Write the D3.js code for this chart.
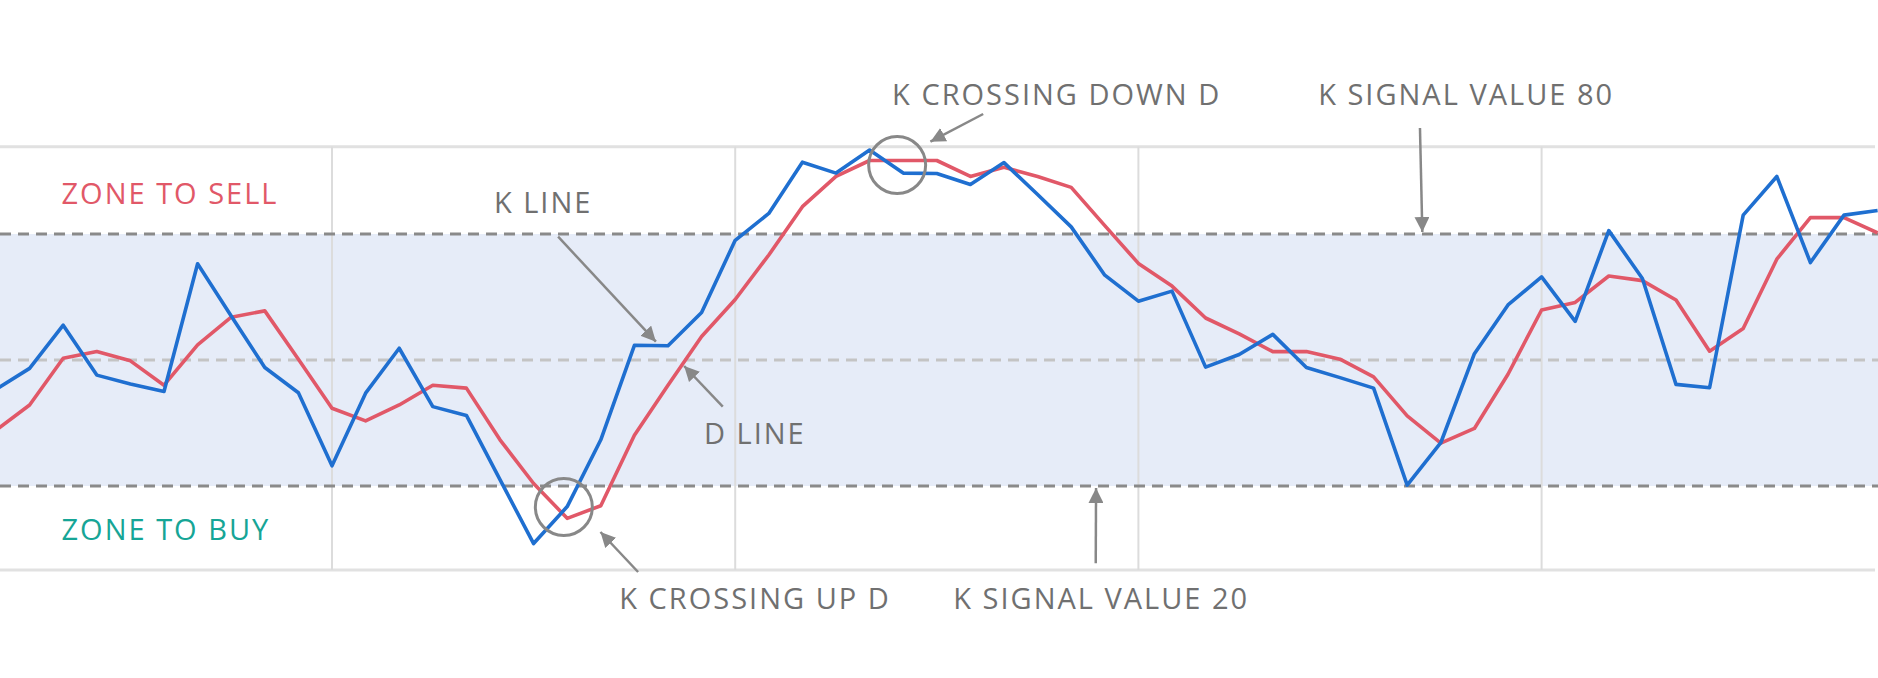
<!DOCTYPE html>
<html>
<head>
<meta charset="utf-8">
<script src="https://cdn.jsdelivr.net/npm/d3@7"></script>
<style>
	body { margin: 0; background: #fff; }
	svg { display: block; font-family: "Open Sans", sans-serif; }
	.label { font-size: 29px; letter-spacing: 2px; fill: #707070; }
</style>
</head>
<body>
<script>
// stochastic oscillator, one value per period
var kValues = [43, 48, 58.3, 46.4, 44.3, 42.5, 72.9, 60.5, 48.2, 42.2,
	24.8, 42.1, 52.8, 38.9, 36.8, 21.5, 6.3, 15.1, 31, 53.5,
	53.4, 61.3, 78.5, 84.9, 97.1, 94.5, 100, 94.5, 94.4, 91.8,
	97, 89.4, 81.7, 70.2, 64, 66.4, 48.3, 51.3, 56.1, 48.2,
	45.8, 43.3, 20.2, 30.3, 51.5, 63.1, 69.8, 59.2, 80.8, 69.4,
	44.2, 43.4, 84.5, 93.7, 73.2, 84.5, 85.6];
var dValues = [33.3, 39.3, 50.4, 52, 49.8, 44, 53.6, 60.2, 61.7, 50.2,
	38.5, 35.5, 39.3, 44, 43.3, 31, 20.6, 12.3, 15.3, 32.1,
	44, 55.6, 64.4, 75, 86.5, 93.7, 97.5, 97.5, 97.5, 93.7,
	95.9, 93.7, 91.1, 82, 73, 67.6, 60, 56.2, 52, 52,
	50.2, 46, 36.7, 30.2, 33.7, 46.6, 61.9, 63.7, 70, 68.9,
	64.3, 52.1, 57.5, 74, 83.9, 83.9, 80.3];
var signalLevels = [20, 80];
var midLevels = [50];
var frameLevels = [0, 100.8];
var gridPeriods = [10, 22, 34, 46];

// annotations, in period / value units
var labels = [
	{text: "ZONE TO SELL", p: 1.95, v: 87.1, color: "#e15868"},
	{text: "ZONE TO BUY", p: 1.95, v: 7.1, color: "#16a596"},
	{text: "K LINE", p: 14.82, v: 85.1},
	{text: "D LINE", p: 21.07, v: 30},
	{text: "K CROSSING DOWN D", p: 26.67, v: 110.7},
	{text: "K SIGNAL VALUE 80", p: 39.35, v: 110.7},
	{text: "K CROSSING UP D", p: 18.55, v: -9.3},
	{text: "K SIGNAL VALUE 20", p: 28.49, v: -9.3}
];
var arrows = [
	{from: [16.73, 79.36], to: [19.64, 54.36]},
	{from: [21.63, 38.88], to: [20.48, 48.57]},
	{from: [29.38, 108.57], to: [27.81, 101.98]},
	{from: [42.38, 105.24], to: [42.45, 80.48]},
	{from: [32.73, 1.6], to: [32.74, 19.52]},
	{from: [19.11, -0.48], to: [17.99, 9.05]}
];
var rings = [{p: 26.82, v: 96.43}, {p: 16.9, v: 15.0}];

var width = 1878, height = 678;

var x = d3.scaleLinear().domain([0, kValues.length - 1]).range([-4, 1877.6]);
var y = d3.scaleLinear().domain([0, 100]).range([570, 150]);

var svg = d3.select("body").append("svg").attr("width", width).attr("height", height);

svg.append("rect").attr("x", 0).attr("width", width)
	.attr("y", y(80)).attr("height", y(20) - y(80))
	.attr("fill", "#e6ecf8");

svg.selectAll(".frame").data(frameLevels).enter().append("line").attr("class", "frame")
	.attr("x1", 0).attr("x2", 1875)
	.attr("y1", function(d){ return y(d); }).attr("y2", function(d){ return y(d); })
	.attr("stroke", "#e1e1e1").attr("stroke-width", 3);

svg.selectAll(".grid").data(gridPeriods).enter().append("line").attr("class", "grid")
	.attr("x1", function(d){ return x(d); }).attr("x2", function(d){ return x(d); })
	.attr("y1", y(frameLevels[1])).attr("y2", y(0))
	.attr("stroke", "#dcdcdc").attr("stroke-width", 2);

svg.selectAll(".mid").data(midLevels).enter().append("line").attr("class", "mid")
	.attr("x1", 0).attr("x2", width)
	.attr("y1", function(d){ return y(d); }).attr("y2", function(d){ return y(d); })
	.attr("stroke", "#c4c4c4").attr("stroke-width", 3).attr("stroke-dasharray", "11,7");

svg.selectAll(".signal").data(signalLevels).enter().append("line").attr("class", "signal")
	.attr("x1", 0).attr("x2", width)
	.attr("y1", function(d){ return y(d); }).attr("y2", function(d){ return y(d); })
	.attr("stroke", "#8a8a8a").attr("stroke-width", 3).attr("stroke-dasharray", "11,7");

var line = d3.line().x(function(d, i){ return x(i); }).y(function(d){ return y(d); });

svg.append("path").datum(dValues).attr("d", line)
	.attr("fill", "none").attr("stroke", "#e15868").attr("stroke-width", 3.6)
	.attr("stroke-linejoin", "round");
svg.append("path").datum(kValues).attr("d", line)
	.attr("fill", "none").attr("stroke", "#1f6fd0").attr("stroke-width", 3.6)
	.attr("stroke-linejoin", "round");

svg.append("defs").append("marker").attr("id", "head")
	.attr("viewBox", "0 0 10 10").attr("refX", 10).attr("refY", 5)
	.attr("markerWidth", 15).attr("markerHeight", 15)
	.attr("markerUnits", "userSpaceOnUse").attr("orient", "auto")
	.append("path").attr("d", "M0,0L10,5L0,10Z").attr("fill", "#888");

svg.selectAll(".ring").data(rings).enter().append("circle").attr("class", "ring")
	.attr("cx", function(d){ return x(d.p); }).attr("cy", function(d){ return y(d.v); })
	.attr("r", 28.5).attr("fill", "none").attr("stroke", "#888").attr("stroke-width", 3);

svg.selectAll(".arrow").data(arrows).enter().append("path").attr("class", "arrow")
	.attr("d", function(d){
		var x1 = x(d.from[0]), y1 = y(d.from[1]), x2 = x(d.to[0]), y2 = y(d.to[1]);
		return "M" + x1 + "," + y1 + "L" + x2 + "," + y2;
	})
	.attr("fill", "none").attr("stroke", "#888").attr("stroke-width", 2.5)
	.attr("marker-end", "url(#head)");

svg.selectAll(".label").data(labels).enter().append("text").attr("class", "label")
	.attr("x", function(d){ return x(d.p); }).attr("y", function(d){ return y(d.v); })
	.style("fill", function(d){ return d.color || null; })
	.text(function(d){ return d.text; });
</script>
</body>
</html>
